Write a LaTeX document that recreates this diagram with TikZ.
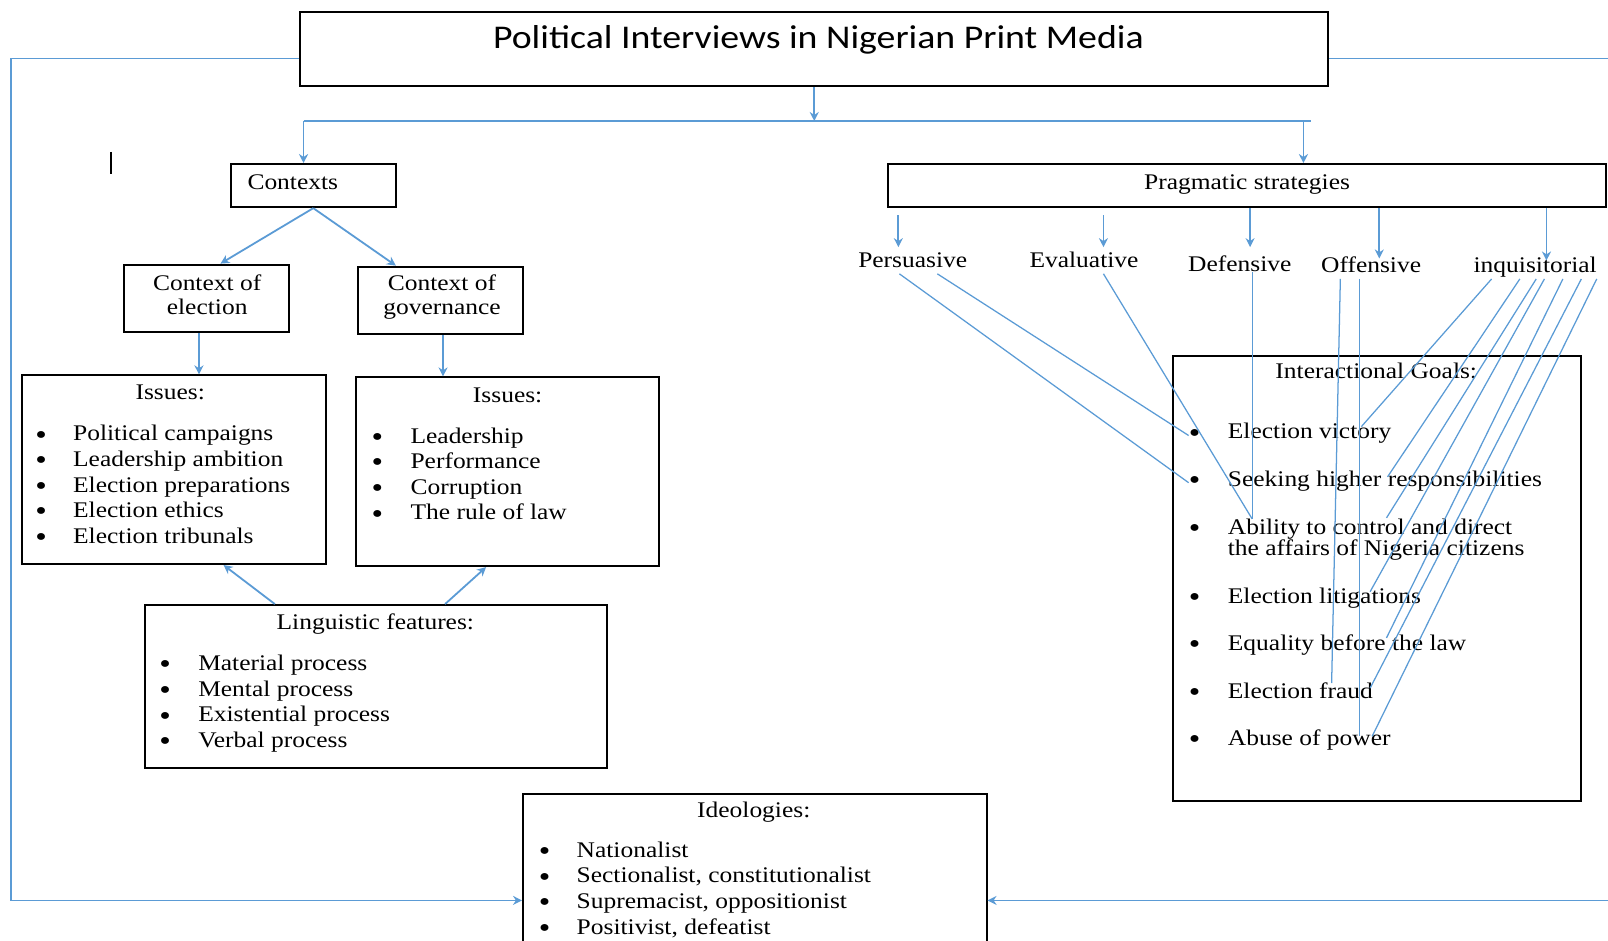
\documentclass[tikz,border=0pt]{standalone}
\usepackage{fontspec}
\setmainfont{Liberation Serif}[FakeStretch=1.14]
\newfontfamily\headfont{Carlito}[FakeStretch=1.14]
\usetikzlibrary{arrows.meta,calc,fit}
\definecolor{lineblue}{RGB}{91,155,213}

\begin{document}
\begin{tikzpicture}[x=0.02cm, y=-0.02cm,
        box/.style={draw, line width=1.1pt, inner sep=0pt},
        txt/.style={inner sep=0pt, font=\fontsize{12.4}{13.2}\selectfont},
        bul/.style={inner sep=0pt, yshift=-0.06cm, font=\fontsize{16}{16}\selectfont},
        conn/.style={lineblue, line width=1pt, -{Stealth[length=5pt,width=5pt]}},
        bus/.style={lineblue, line width=1pt},
        link/.style={lineblue, line width=0.7pt}]
    \useasboundingbox (0,0) rectangle (1568,917);

    % TOP
    \node[box, fit={(293,12) (1295,84)}] (title) {};
    \node[inner sep=0pt, anchor=base, font=\headfont\fontsize{18.4}{22}\selectfont] (title-t) at (798,47) {Political Interviews in Nigerian Print Media};
    \draw[line width=1pt] (108,148) -- (108,170);

    \coordinate (busL) at (296,118);
    \coordinate (busR) at (1278,118);
    \coordinate (busP) at (1271,118);
    \draw[conn] (title.south) -- (title.south |- busL);
    \draw[bus] (busL) -- (busR);

    % LEFT BRANCH
    \node[box, fit={(225,160) (386,202)}] (ctx) {};
    \node[txt, anchor=base west] (ctx-t) at (241,185) {Contexts};
    \node[box, fit={(121,258) (282,324)}] (elec) {};
    \node[txt, align=center] (elec-t) at (202,287.5) {Context of\\election};
    \node[box, fit={(349,260) (510,326)}] (gov) {};
    \node[txt, align=center] (gov-t) at (431,289.5) {Context of\\governance};

    \draw[conn] (busL) -- (busL |- ctx.north);
    \draw[conn] (ctx.south) -- ([xshift=0.27cm]elec.north);
    \draw[conn] (ctx.south) -- ([xshift=-0.87cm]gov.north);

    \node[box, fit={(21,366) (318,550)}] (iss1) {};
    \node[txt, anchor=base] (iss1-h) at (166,390) {Issues:};
    \foreach \txt [count=\i] in {Political campaigns, Leadership ambition, Election preparations, Election ethics, Election tribunals} {
        \node[bul, anchor=base] (ib\i) at (40,405+25*\i) {\textbullet};
        \node[txt, anchor=base west] (it\i) at (71,405+25*\i) {\txt};
    }
    \node[box, fit={(347,368) (643,552)}] (iss2) {};
    \node[txt, anchor=base] (iss2-h) at (495,392) {Issues:};
    \foreach \txt [count=\i] in {Leadership, Performance, Corruption, The rule of law} {
        \node[bul, anchor=base] (jb\i) at (368,407+25*\i) {\textbullet};
        \node[txt, anchor=base west] (jt\i) at (400,407+25*\i) {\txt};
    }
    \draw[conn] ([xshift=-0.15cm]elec.south) -- ([xshift=-0.15cm]elec.south |- iss1.north);
    \draw[conn] ([xshift=0.05cm]gov.south) -- ([xshift=0.05cm]gov.south |- iss2.north);

    \node[box, fit={(141,590) (592,749)}] (ling) {};
    \node[txt, anchor=base] (ling-h) at (366,614) {Linguistic features:};
    \foreach \txt [count=\i] in {Material process, Mental process, Existential process, Verbal process} {
        \node[bul, anchor=base] (lb\i) at (161,629+25*\i) {\textbullet};
        \node[txt, anchor=base west] (lt\i) at (193,629+25*\i) {\txt};
    }
    \draw[conn] ([xshift=-1.97cm]ling.north) -- ([xshift=0.97cm]iss1.south);
    \draw[conn] ([xshift=1.35cm]ling.north) -- ([xshift=-0.42cm]iss2.south);

    % BOTTOM
    \node[box, fit={(510,774) (962,940)}] (ideo) {};
    \node[txt, anchor=base] (ideo-h) at (735,797) {Ideologies:};
    \foreach \txt [count=\i] in {Nationalist, {Sectionalist, constitutionalist}, {Supremacist, oppositionist}, {Positivist, defeatist}} {
        \node[bul, anchor=base] (db\i) at (531,811+25*\i) {\textbullet};
        \node[txt, anchor=base west] (dt\i) at (562,811+25*\i) {\txt};
    }

    \coordinate (lpA) at (11,57);
    \coordinate (lpB) at (11,878);
    \coordinate (rpA) at (1568,57);
    \coordinate (rpB) at (1568,878);
    \draw[conn] (title.west |- lpA) -- (lpA) -- (lpB) -- (ideo.west |- lpB);
    \draw[bus] (title.east |- rpA) -- (rpA);
    \draw[conn] (rpB) -- (ideo.east |- rpB);

    % RIGHT BRANCH
    \node[box, fit={(866,160) (1566,202)}] (prag) {};
    \node[txt, anchor=base] (prag-t) at (1216,185) {Pragmatic strategies};
    \draw[conn] (busP) -- (busP |- prag.north);

    \foreach \nm/\lab/\xx/\yy in {per/Persuasive/890/261, eva/Evaluative/1057/261, def/Defensive/1209/265, off/Offensive/1337/266, inq/inquisitorial/1497/266}
        \node[txt, anchor=base] (\nm) at (\xx,\yy) {\lab};
    \foreach \nm/\dx/\gap/\up in {per/-14/7/-20, eva/19/7/-20, def/10/0/-24, off/8/0/-14, inq/11/0/-12}
        \draw[conn] ($(prag.south -| \nm.base)+(\dx,\gap)$) -- ($(\nm.base)+(\dx,\up)$);

    \node[box, fit={(1144,347) (1542,781)}] (goals) {};
    \node[txt, anchor=base] (goals-h) at (1342,369) {Interactional Goals:};
    \foreach \yy/\txt [count=\i] in {428/Election victory, 474/Seeking higher responsibilities, 521/Ability to control and direct, 588/Election litigations, 634/Equality before the law, 681/Election fraud, 727/Abuse of power} {
        \node[bul, anchor=base] (gb\i) at (1165,\yy) {\textbullet};
        \node[txt, anchor=base west] (gt\i) at (1197,\yy) {\txt};
    }
    \node[txt, anchor=base west] (gt3b) at (1197,542) {the affairs of Nigeria citizens};

    % strategy -> goal links
    \draw[link] ($(per.base)+(-13,6)$) -- (gb2.west);
    \draw[link] ($(per.base)+(24,6)$) -- (gb1.west);
    \draw[link] ($(eva.base)+(19,6)$) -- ($(gt3.base west)+(24,-15)$);
    \draw[link] ($(def.base)+(12,0)$) -- ($(gt3.base west)+(24,-15)$);
    \draw[link] ($(off.base)+(-30,6)$) -- ($(gt6.base west)+(101.5,-15)$);
    \draw[link] ($(off.base)+(-11,6)$) -- ($(gt7.base west)+(129,-9)$);
    \foreach \dx/\g/\gx/\gy in {-42.5/1/130.5/-12, -15/2/156/-9, 1/3/155/-16, 9/4/139/-11, 27/5/155/-12, 45/6/139/-10, 60/7/141/-9}
        \draw[link] ($(inq.base)+(\dx,6)$) -- ($(gt\g.base west)+(\gx,\gy)$);
\end{tikzpicture}
\end{document}
